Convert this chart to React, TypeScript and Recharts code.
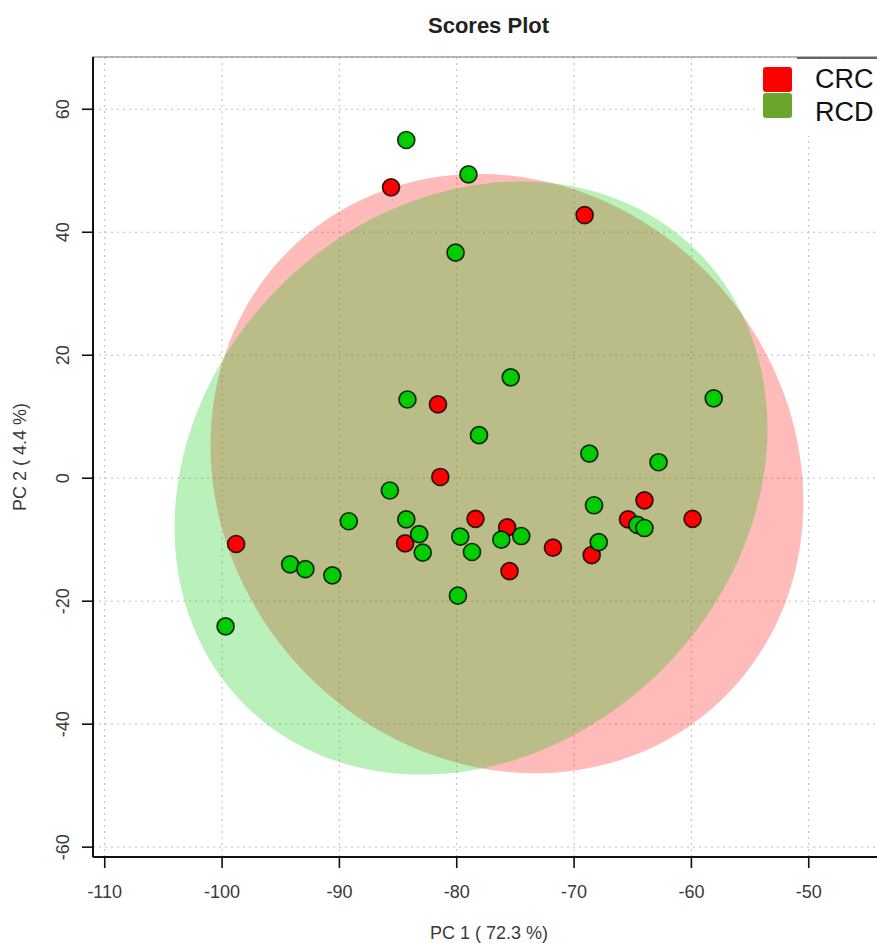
import React from "react";
import {
  ScatterChart,
  Scatter,
  XAxis,
  YAxis,
  CartesianGrid,
  ReferenceArea,
  Label,
} from "recharts";

// PCA scores per group (PC1, PC2)
const crcPC1 = [-85.6, -69.1, -81.6, -81.4, -78.4, -75.7, -75.5, -84.4, -71.8, -68.5, -65.4, -64.0, -59.9, -98.8];
const crcPC2 = [47.3, 42.8, 12.0, 0.2, -6.6, -8.0, -15.1, -10.6, -11.3, -12.5, -6.7, -3.6, -6.6, -10.7];

const rcdPC1 = [
  -84.3, -79.0, -80.1, -75.4, -84.2, -78.1, -58.1, -68.7, -62.8, -85.7, -68.3, -89.2, -84.3, -83.2,
  -82.9, -79.7, -78.7, -76.2, -74.5, -67.9, -64.6, -64.0, -94.2, -92.9, -90.6, -79.9, -99.7,
];
const rcdPC2 = [
  55.0, 49.4, 36.7, 16.4, 12.8, 7.0, 13.0, 4.0, 2.6, -2.0, -4.4, -7.0, -6.7, -9.1,
  -12.1, -9.5, -12.0, -10.0, -9.4, -10.4, -7.6, -8.1, -14.0, -14.8, -15.8, -19.1, -24.1,
];

const groupNames = ["CRC", "RCD"];
const xTicks = [-110, -100, -90, -80, -70, -60, -50];
const yTicks = [-60, -40, -20, 0, 20, 40, 60];
const xDomain = [-111, -43.5];
const yDomain = [-61.6, 68.5];

const FONT = '"Liberation Sans", Arial, sans-serif';

type Pt = { x: number; y: number };

const toPoints = (xs: number[], ys: number[]): Pt[] => xs.map((x, i) => ({ x, y: ys[i] }));

// 95% confidence ellipse (chi-square, 2 df) from the group's mean and sample covariance
const confidenceEllipse = (pts: Pt[], steps = 160): Pt[] => {
  const n = pts.length;
  const mx = pts.reduce((s, p) => s + p.x, 0) / n;
  const my = pts.reduce((s, p) => s + p.y, 0) / n;
  let sxx = 0;
  let syy = 0;
  let sxy = 0;
  pts.forEach((p) => {
    const dx = p.x - mx;
    const dy = p.y - my;
    sxx += dx * dx;
    syy += dy * dy;
    sxy += dx * dy;
  });
  sxx /= n - 1;
  syy /= n - 1;
  sxy /= n - 1;
  const t = Math.sqrt(5.991);
  const l11 = Math.sqrt(sxx);
  const l21 = sxy / l11;
  const l22 = Math.sqrt(syy - l21 * l21);
  const out: Pt[] = [];
  for (let i = 0; i <= steps; i++) {
    const a = (2 * Math.PI * i) / steps;
    const u = Math.cos(a);
    const v = Math.sin(a);
    out.push({ x: mx + t * l11 * u, y: my + t * (l21 * u + l22 * v) });
  }
  return out;
};

const crcData = toPoints(crcPC1, crcPC2);
const rcdData = toPoints(rcdPC1, rcdPC2);
const crcEllipse = confidenceEllipse(crcData);
const rcdEllipse = confidenceEllipse(rcdData);

const dot = (fill: string) => (props: any) => (
  <circle
    cx={props.cx}
    cy={props.cy}
    r={8.5}
    fill={fill}
    stroke="#000"
    strokeOpacity={0.8}
    strokeWidth={1.7}
  />
);

const noShape = () => <g />;

const XTick = ({ x, y, payload }: any) => (
  <text x={x} y={y + 30} textAnchor="middle" fontSize={18} fontFamily={FONT} fill="#3a3a3a">
    {payload.value}
  </text>
);

const YTick = ({ y, payload }: any) => (
  <text
    x={69}
    y={y}
    transform={`rotate(-90 69 ${y})`}
    textAnchor="middle"
    fontSize={18}
    fontFamily={FONT}
    fill="#3a3a3a"
  >
    {payload.value}
  </text>
);

const legendColors = ["#ff0000", "#6aa52c"];

export default function App() {
  return (
    <div
      style={{
        position: "fixed",
        left: 0,
        top: 0,
        width: 877,
        height: 943,
        overflow: "hidden",
        background: "#fff",
      }}
    >
      <ScatterChart width={960} height={943} margin={{ top: 57, right: 75, bottom: 0, left: 0 }}>
        <CartesianGrid stroke="#bdbdbd" strokeDasharray="2 4" />
        <ReferenceArea
          x1={xDomain[0]}
          x2={xDomain[1]}
          y1={yDomain[0]}
          y2={yDomain[1]}
          fill="none"
          stroke="#777"
          strokeWidth={1.2}
        />
        <XAxis
          type="number"
          dataKey="x"
          domain={xDomain}
          ticks={xTicks}
          allowDataOverflow
          height={86}
          tickSize={11}
          tickMargin={0}
          tick={<XTick />}
          axisLine={{ stroke: "#111", strokeWidth: 2 }}
          tickLine={{ stroke: "#111", strokeWidth: 1.6 }}
        >
          <Label
            content={() => (
              <text x={489} y={939} textAnchor="middle" fontSize={18} fontFamily={FONT} fill="#3a3a3a">
                PC 1 ( 72.3 %)
              </text>
            )}
          />
        </XAxis>
        <YAxis
          type="number"
          dataKey="y"
          domain={yDomain}
          ticks={yTicks}
          allowDataOverflow
          width={93}
          tickSize={11}
          tickMargin={0}
          tick={<YTick />}
          axisLine={{ stroke: "#111", strokeWidth: 2 }}
          tickLine={{ stroke: "#111", strokeWidth: 1.6 }}
        >
          <Label
            content={() => (
              <text
                x={26}
                y={457}
                transform="rotate(-90 26 457)"
                textAnchor="middle"
                fontSize={18}
                fontFamily={FONT}
                fill="#3a3a3a"
              >
                PC 2 ( 4.4 %)
              </text>
            )}
          />
        </YAxis>
        <Scatter
          name="CRC ellipse"
          data={crcEllipse}
          shape={noShape}
          line={{ fill: "#ff0000", fillOpacity: 0.27, stroke: "none" }}
          lineJointType="linear"
          isAnimationActive={false}
        />
        <Scatter
          name="RCD ellipse"
          data={rcdEllipse}
          shape={noShape}
          line={{ fill: "#00c800", fillOpacity: 0.27, stroke: "none" }}
          lineJointType="linear"
          isAnimationActive={false}
        />
        <Scatter name={groupNames[0]} data={crcData} shape={dot("#ff0000")} isAnimationActive={false} />
        <Scatter name={groupNames[1]} data={rcdData} shape={dot("#00cc00")} isAnimationActive={false} />
      </ScatterChart>

      <div
        style={{
          position: "absolute",
          left: 0,
          top: 13,
          width: 977,
          textAlign: "center",
          fontFamily: FONT,
          fontWeight: "bold",
          fontSize: 22,
          color: "#222",
        }}
      >
        Scores Plot
      </div>

      {/* legend box in the top-right corner of the plot */}
      <div
        style={{
          position: "absolute",
          left: 758,
          top: 58,
          width: 200,
          height: 78,
          background: "#fff",
        }}
      >
        <div style={{ position: "absolute", left: 39, top: -1, width: 200, height: 2, background: "#666" }} />
        {groupNames.map((name, i) => (
          <div key={name} style={{ position: "absolute", left: 5, top: 9 + i * 26 }}>
            <div
              style={{
                position: "absolute",
                left: 0,
                top: 0,
                width: 29,
                height: 25,
                borderRadius: 3,
                background: legendColors[i],
              }}
            />
            <div
              style={{
                position: "absolute",
                left: 52,
                top: i * 7 - 4,
                fontFamily: FONT,
                fontSize: 27,
                lineHeight: "32px",
                color: "#111",
                whiteSpace: "nowrap",
              }}
            >
              {name}
            </div>
          </div>
        ))}
      </div>
    </div>
  );
}
